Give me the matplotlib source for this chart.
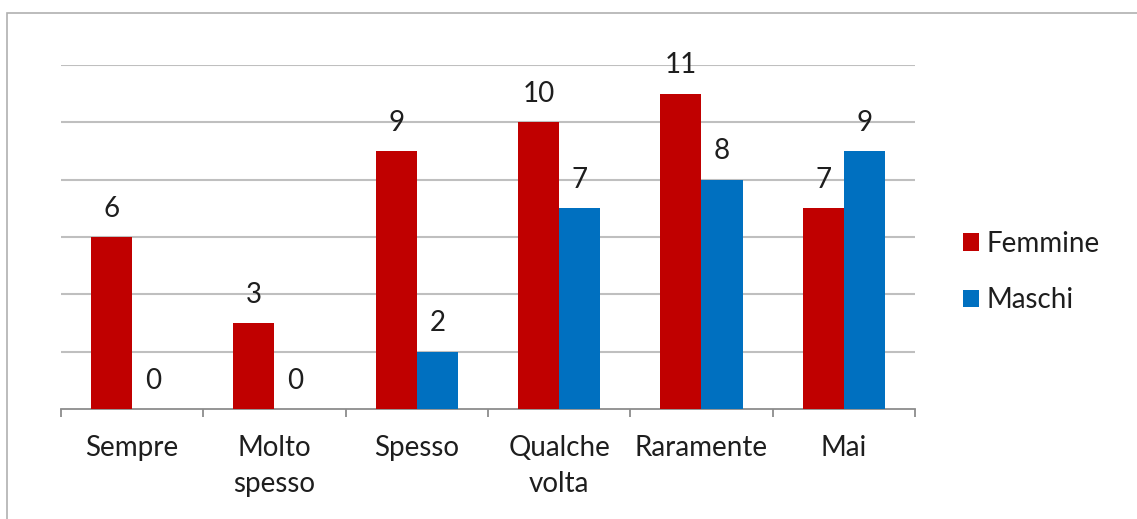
import matplotlib
matplotlib.use("Agg")
import matplotlib.pyplot as plt
import numpy as np
from matplotlib.patches import Rectangle

categories = ["Sempre", "Molto\nspesso", "Spesso", "Qualche\nvolta", "Raramente", "Mai"]
femmine = [6, 3, 9, 10, 11, 7]
maschi = [0, 0, 2, 7, 8, 9]
series_names = ["Femmine", "Maschi"]

RED = "#C00000"
BLUE = "#0070C0"
GRID = "#BFBFBF"
TEXT = "#1E1E1E"
FONT = "Lato"
FS = 20

W, H = 1137, 519
fig = plt.figure(figsize=(W / 100, H / 100), dpi=100)
fig.patch.set_facecolor("white")

# outer chart frame
fig.add_artist(Rectangle((6.5 / W, -0.1), 1.2, (1 - 13 / H) + 0.1,
                         transform=fig.transFigure, fill=False,
                         edgecolor="#B0B0B0", linewidth=1.2))

ax = fig.add_axes([61 / W, 1 - 409 / H, (915 - 61) / W, (409 - 65) / H])
x = np.arange(len(categories))
bw = 0.29
b1 = ax.bar(x - bw / 2, femmine, bw, color=RED, label=series_names[0], zorder=3)
b2 = ax.bar(x + bw / 2, maschi, bw, color=BLUE, label=series_names[1], zorder=3)

for bars, vals in ((b1, femmine), (b2, maschi)):
    for rect, v in zip(bars, vals):
        ax.annotate(str(v), (rect.get_x() + rect.get_width() / 2, v),
                    xytext=(0, 11), textcoords="offset points",
                    ha="center", va="bottom", fontsize=FS, family=FONT,
                    color=TEXT)

ax.set_xlim(-0.5, len(categories) - 0.5)
ax.set_ylim(0, 12)
ax.set_yticks(np.arange(2, 13, 2))
ax.yaxis.grid(True, color=GRID, linewidth=1.5, zorder=0)
ax.tick_params(axis="y", left=False, labelleft=False)

for s in ("top", "right", "left"):
    ax.spines[s].set_visible(False)
ax.spines["bottom"].set_color("#8C8C8C")
ax.spines["bottom"].set_linewidth(1.3)

ax.set_xticks(x)
ax.set_xticklabels(categories, fontsize=FS, family=FONT, color=TEXT,
                   linespacing=1.45, va="top")
ax.tick_params(axis="x", length=0, pad=19)
ax.set_xticks(np.arange(-0.5, len(categories), 1), minor=True)
ax.tick_params(axis="x", which="minor", length=6, width=1.3, color="#8C8C8C")

leg = ax.legend(loc="center left", bbox_to_anchor=(938 / W, 1 - 272 / H),
                bbox_transform=fig.transFigure, frameon=False,
                prop={"family": FONT, "size": FS}, handlelength=0.58,
                handleheight=0.58, handletextpad=0.28, labelspacing=1.1,
                labelcolor=TEXT)

fig.savefig("out.png", dpi=100, facecolor="white")
